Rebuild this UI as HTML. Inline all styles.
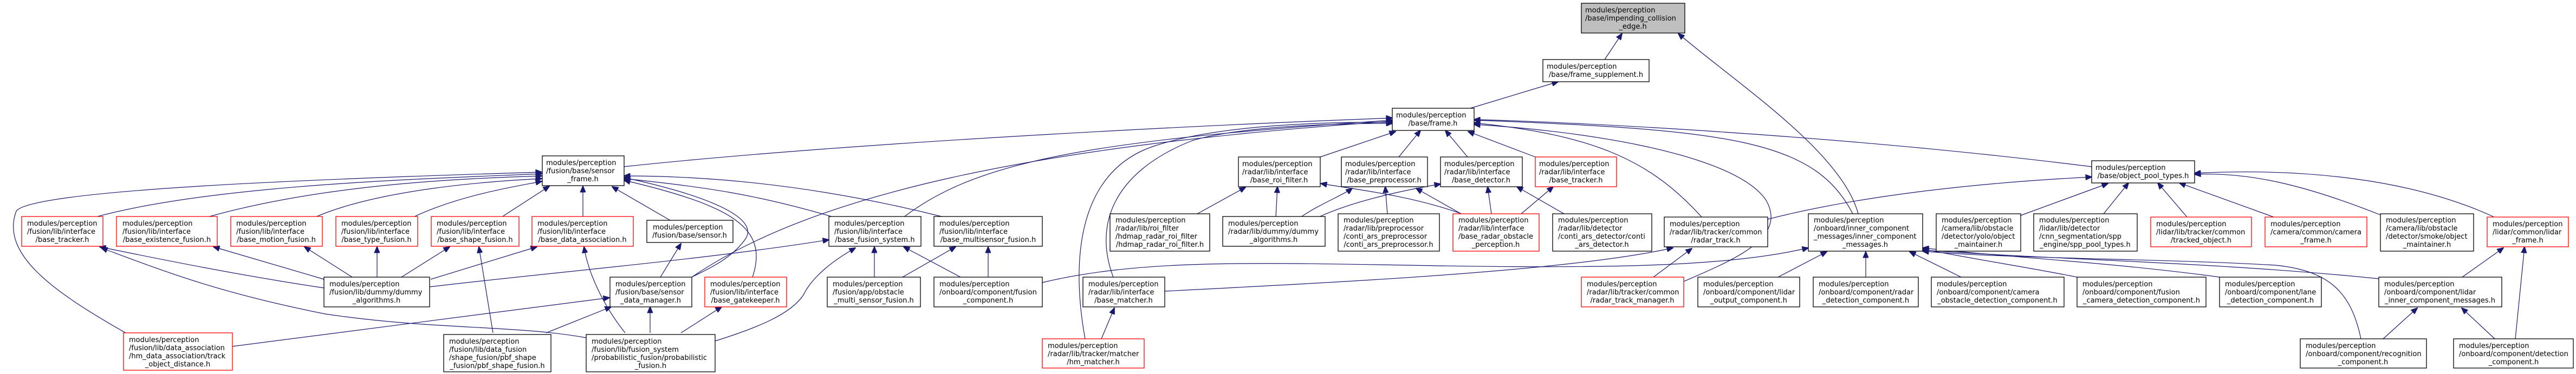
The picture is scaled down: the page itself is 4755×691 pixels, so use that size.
<!DOCTYPE html>
<html><head><meta charset="utf-8"><style>
html,body{margin:0;padding:0;background:#fff;}
svg{display:block;}
text{font-family:"DejaVu Sans","Liberation Sans",sans-serif;font-size:13px;fill:#000;}
.n{fill:#fff;stroke:#000;stroke-width:1.3;}
.r{fill:#fff;stroke:#ff0000;stroke-width:1.3;}
.g{fill:#bfbfbf;stroke:#000;stroke-width:1.3;}
.e{fill:none;stroke:#191970;stroke-width:1.2;marker-start:url(#a);}
</style></head><body>
<svg width="4755" height="691" viewBox="0 0 4755 691" xmlns="http://www.w3.org/2000/svg">
<defs><marker id="a" markerUnits="userSpaceOnUse" markerWidth="14" markerHeight="12" refX="1" refY="5" orient="auto"><path d="M0,5 L12,0 L12,10 Z" fill="#191970" stroke="#191970"/></marker></defs>
<g>
<path class="e" d="M2994,62 L2962,110"/>
<path class="e" d="M3098,62 C3200,150 3400,280 3430,395"/>
<path class="e" d="M2876,151 L2714,200"/>
<path class="e" d="M2570,218 C2300,228 1600,260 1151,308"/>
<path class="e" d="M2570,222 C2000,260 1800,300 1667,402"/>
<path class="e" d="M2570,224 C1900,270 1500,360 1277,512"/>
<path class="e" d="M2570,226 C2450,225 2250,230 2130,270 C1980,320 1980,500 2003,626"/>
<path class="e" d="M2570,228 C2500,228 2300,230 2200,260 C2050,320 2020,420 2055,512"/>
<path class="e" d="M2576,243 L2437,290"/>
<path class="e" d="M2622,241 L2582,290"/>
<path class="e" d="M2668,241 L2709,290"/>
<path class="e" d="M2710,243 L2834,290"/>
<path class="e" d="M2721,227 C2950,250 3050,300 3142,402"/>
<path class="e" d="M2721,230 C2900,240 3200,280 3260,370 C3300,440 3200,480 3108,520"/>
<path class="e" d="M2721,222 C3200,240 3350,260 3420,395"/>
<path class="e" d="M2721,221 C2900,225 3400,250 3861,308"/>
<path class="e" d="M2358,345 L2355,402"/>
<path class="e" d="M2299,346 L2210,395"/>
<path class="e" d="M2496,348 C2480,360 2430,380 2400,402"/>
<path class="e" d="M2659,340 C2600,350 2500,370 2432,402"/>
<path class="e" d="M2438,339 C2500,350 2600,360 2698,395"/>
<path class="e" d="M2557,345 L2561,395"/>
<path class="e" d="M2614,348 L2697,395"/>
<path class="e" d="M2746,345 L2753,395"/>
<path class="e" d="M2867,345 L2808,395"/>
<path class="e" d="M2800,345 L2887,395"/>
<path class="e" d="M3123,459 L3052,512"/>
<path class="e" d="M3861,327 C3600,340 3400,370 3263,405"/>
<path class="e" d="M3891,339 L3730,398"/>
<path class="e" d="M3929,338 L3883,395"/>
<path class="e" d="M3983,338 L4037,401"/>
<path class="e" d="M4023,338 L4197,401"/>
<path class="e" d="M4051,322 C4150,318 4250,340 4394,397"/>
<path class="e" d="M4051,320 C4250,310 4450,330 4604,401"/>
<path class="e" d="M3372,465 L3282,512"/>
<path class="e" d="M3444,465 L3444,512"/>
<path class="e" d="M3525,465 L3620,512"/>
<path class="e" d="M3549,460 C3650,480 3750,495 3834,512"/>
<path class="e" d="M3549,458 C3700,475 3900,485 4097,512"/>
<path class="e" d="M3549,462 C3800,480 4100,485 4391,515"/>
<path class="e" d="M3549,464 C3700,478 4000,478 4200,490 C4300,500 4340,540 4358,626"/>
<path class="e" d="M3338,458 C3200,490 3000,498 2600,490 C2300,485 2100,480 1924,522"/>
<path class="e" d="M3088,458 C2900,500 2500,520 2150,538"/>
<path class="e" d="M2057,569 L2033,626"/>
<path class="e" d="M4621,458 L4545,512"/>
<path class="e" d="M4660,456 L4643,626"/>
<path class="e" d="M4462,569 L4399,626"/>
<path class="e" d="M4544,569 L4605,626"/>
<path class="e" d="M1614,456 L1614,512"/>
<path class="e" d="M1764,456 L1666,512"/>
<path class="e" d="M1668,456 L1773,512"/>
<path class="e" d="M1824,456 L1824,512"/>
<path class="e" d="M1530,443 C1300,480 1000,505 793,530"/>
<path class="e" d="M1000,321 C800,330 400,340 176,401"/>
<path class="e" d="M1000,325 C850,330 600,340 383,401"/>
<path class="e" d="M1000,330 C900,335 700,350 582,401"/>
<path class="e" d="M1000,335 C950,345 850,360 763,401"/>
<path class="e" d="M1014,344 L926,401"/>
<path class="e" d="M1076,344 L1076,401"/>
<path class="e" d="M1130,345 L1237,407"/>
<path class="e" d="M1000,318 C600,330 60,350 30,390 C0,470 100,540 232,615"/>
<path class="e" d="M1152,328 C1300,360 1400,400 1377,440 C1350,480 1300,500 1277,512"/>
<path class="e" d="M1152,333 C1350,380 1420,420 1389,512"/>
<path class="e" d="M1152,330 C1300,345 1400,360 1538,401"/>
<path class="e" d="M1152,325 C1300,325 1500,340 1742,401"/>
<path class="e" d="M1257,450 L1219,512"/>
<path class="e" d="M184,456 C300,480 450,510 598,532"/>
<path class="e" d="M394,456 L598,516"/>
<path class="e" d="M562,456 L650,512"/>
<path class="e" d="M696,456 L696,512"/>
<path class="e" d="M830,456 L741,512"/>
<path class="e" d="M991,456 L795,516"/>
<path class="e" d="M187,458 C300,500 400,540 600,580 C800,610 950,600 1082,624"/>
<path class="e" d="M1078,456 C1085,500 1110,560 1154,615"/>
<path class="e" d="M884,456 L910,615"/>
<path class="e" d="M1128,567 L1008,615"/>
<path class="e" d="M1125,550 L429,640"/>
<path class="e" d="M1200,567 L1200,615"/>
<path class="e" d="M1332,567 L1257,615"/>
<path class="e" d="M1579,458 C1540,480 1500,510 1483,545 C1460,580 1400,605 1320,630"/>
</g>
<g>
<rect class="g" x="2919" y="6" width="191" height="55"/><text x="2926" y="23">modules/perception</text><text x="2926" y="38">/base/impending_collision</text><text x="3014" y="53" text-anchor="middle">_edge.h</text>
<rect class="n" x="2848" y="110" width="196" height="41"/><text x="2855" y="127">modules/perception</text><text x="2946" y="142" text-anchor="middle">/base/frame_supplement.h</text>
<rect class="n" x="2570" y="200" width="151" height="41"/><text x="2577" y="217">modules/perception</text><text x="2645" y="232" text-anchor="middle">/base/frame.h</text>
<rect class="n" x="1001" y="288" width="151" height="55"/><text x="1008" y="305">modules/perception</text><text x="1008" y="320">/fusion/base/sensor</text><text x="1076" y="335" text-anchor="middle">_frame.h</text>
<rect class="n" x="2286" y="290" width="151" height="55"/><text x="2293" y="307">modules/perception</text><text x="2293" y="322">/radar/lib/interface</text><text x="2361" y="337" text-anchor="middle">/base_roi_filter.h</text>
<rect class="n" x="2476" y="290" width="159" height="55"/><text x="2483" y="307">modules/perception</text><text x="2483" y="322">/radar/lib/interface</text><text x="2555" y="337" text-anchor="middle">/base_preprocessor.h</text>
<rect class="n" x="2659" y="290" width="151" height="55"/><text x="2666" y="307">modules/perception</text><text x="2666" y="322">/radar/lib/interface</text><text x="2734" y="337" text-anchor="middle">/base_detector.h</text>
<rect class="r" x="2834" y="290" width="150" height="55"/><text x="2841" y="307">modules/perception</text><text x="2841" y="322">/radar/lib/interface</text><text x="2909" y="337" text-anchor="middle">/base_tracker.h</text>
<rect class="n" x="3861" y="297" width="190" height="41"/><text x="3868" y="314">modules/perception</text><text x="3956" y="329" text-anchor="middle">/base/object_pool_types.h</text>

<rect class="r" x="40" y="400" width="150" height="55"/><text x="50" y="417">modules/perception</text><text x="50" y="432">/fusion/lib/interface</text><text x="115" y="447" text-anchor="middle">/base_tracker.h</text>
<rect class="r" x="215" y="400" width="186" height="55"/><text x="226" y="417">modules/perception</text><text x="226" y="432">/fusion/lib/interface</text><text x="308" y="447" text-anchor="middle">/base_existence_fusion.h</text>
<rect class="r" x="426" y="400" width="169" height="55"/><text x="436" y="417">modules/perception</text><text x="436" y="432">/fusion/lib/interface</text><text x="510" y="447" text-anchor="middle">/base_motion_fusion.h</text>
<rect class="r" x="620" y="400" width="151" height="55"/><text x="630" y="417">modules/perception</text><text x="630" y="432">/fusion/lib/interface</text><text x="695" y="447" text-anchor="middle">/base_type_fusion.h</text>
<rect class="r" x="796" y="400" width="162" height="55"/><text x="806" y="417">modules/perception</text><text x="806" y="432">/fusion/lib/interface</text><text x="877" y="447" text-anchor="middle">/base_shape_fusion.h</text>
<rect class="r" x="982" y="400" width="187" height="55"/><text x="992" y="417">modules/perception</text><text x="992" y="432">/fusion/lib/interface</text><text x="1075" y="447" text-anchor="middle">/base_data_association.h</text>
<rect class="n" x="1194" y="407" width="159" height="41"/><text x="1205" y="424">modules/perception</text><text x="1273" y="439" text-anchor="middle">/fusion/base/sensor.h</text>
<rect class="n" x="1530" y="400" width="170" height="55"/><text x="1540" y="417">modules/perception</text><text x="1540" y="432">/fusion/lib/interface</text><text x="1615" y="447" text-anchor="middle">/base_fusion_system.h</text>
<rect class="n" x="1724" y="400" width="200" height="55"/><text x="1734" y="417">modules/perception</text><text x="1734" y="432">/fusion/lib/interface</text><text x="1824" y="447" text-anchor="middle">/base_multisensor_fusion.h</text>
<rect class="n" x="2049" y="395" width="184" height="69"/><text x="2059" y="411">modules/perception</text><text x="2059" y="426">/radar/lib/roi_filter</text><text x="2059" y="441">/hdmap_radar_roi_filter</text><text x="2141" y="456" text-anchor="middle">/hdmap_radar_roi_filter.h</text>
<rect class="n" x="2257" y="400" width="189" height="55"/><text x="2267" y="417">modules/perception</text><text x="2267" y="432">/radar/lib/dummy/dummy</text><text x="2351" y="447" text-anchor="middle">_algorithms.h</text>
<rect class="n" x="2470" y="395" width="187" height="69"/><text x="2480" y="411">modules/perception</text><text x="2480" y="426">/radar/lib/preprocessor</text><text x="2480" y="441">/conti_ars_preprocessor</text><text x="2563" y="456" text-anchor="middle">/conti_ars_preprocessor.h</text>
<rect class="r" x="2682" y="395" width="159" height="69"/><text x="2692" y="411">modules/perception</text><text x="2692" y="426">/radar/lib/interface</text><text x="2692" y="441">/base_radar_obstacle</text><text x="2761" y="456" text-anchor="middle">_perception.h</text>
<rect class="n" x="2866" y="395" width="183" height="69"/><text x="2876" y="411">modules/perception</text><text x="2876" y="426">/radar/lib/detector</text><text x="2876" y="441">/conti_ars_detector/conti</text><text x="2957" y="456" text-anchor="middle">_ars_detector.h</text>
<rect class="n" x="3072" y="401" width="191" height="55"/><text x="3082" y="418">modules/perception</text><text x="3082" y="433">/radar/lib/tracker/common</text><text x="3167" y="448" text-anchor="middle">/radar_track.h</text>
<rect class="n" x="3338" y="395" width="211" height="69"/><text x="3348" y="411">modules/perception</text><text x="3348" y="426">/onboard/inner_component</text><text x="3348" y="441">_messages/inner_component</text><text x="3443" y="456" text-anchor="middle">_messages.h</text>
<rect class="n" x="3574" y="395" width="156" height="69"/><text x="3584" y="411">modules/perception</text><text x="3584" y="426">/camera/lib/obstacle</text><text x="3584" y="441">/detector/yolo/object</text><text x="3652" y="456" text-anchor="middle">_maintainer.h</text>
<rect class="n" x="3754" y="395" width="191" height="69"/><text x="3764" y="411">modules/perception</text><text x="3764" y="426">/lidar/lib/detector</text><text x="3764" y="441">/cnn_segmentation/spp</text><text x="3849" y="456" text-anchor="middle">_engine/spp_pool_types.h</text>
<rect class="r" x="3970" y="401" width="186" height="55"/><text x="3980" y="418">modules/perception</text><text x="3980" y="433">/lidar/lib/tracker/common</text><text x="4063" y="448" text-anchor="middle">/tracked_object.h</text>
<rect class="r" x="4181" y="401" width="188" height="55"/><text x="4191" y="418">modules/perception</text><text x="4191" y="433">/camera/common/camera</text><text x="4275" y="448" text-anchor="middle">_frame.h</text>
<rect class="n" x="4394" y="395" width="172" height="69"/><text x="4404" y="411">modules/perception</text><text x="4404" y="426">/camera/lib/obstacle</text><text x="4404" y="441">/detector/smoke/object</text><text x="4480" y="456" text-anchor="middle">_maintainer.h</text>
<rect class="r" x="4591" y="401" width="150" height="55"/><text x="4601" y="418">modules/perception</text><text x="4601" y="433">/lidar/common/lidar</text><text x="4666" y="448" text-anchor="middle">_frame.h</text>

<rect class="n" x="598" y="512" width="195" height="55"/><text x="608" y="529">modules/perception</text><text x="608" y="544">/fusion/lib/dummy/dummy</text><text x="695" y="559" text-anchor="middle">_algorithms.h</text>
<rect class="n" x="1126" y="512" width="151" height="55"/><text x="1136" y="529">modules/perception</text><text x="1136" y="544">/fusion/base/sensor</text><text x="1201" y="559" text-anchor="middle">_data_manager.h</text>
<rect class="r" x="1301" y="512" width="151" height="55"/><text x="1311" y="529">modules/perception</text><text x="1311" y="544">/fusion/lib/interface</text><text x="1376" y="559" text-anchor="middle">/base_gatekeeper.h</text>
<rect class="n" x="1527" y="512" width="172" height="55"/><text x="1537" y="529">modules/perception</text><text x="1537" y="544">/fusion/app/obstacle</text><text x="1613" y="559" text-anchor="middle">_multi_sensor_fusion.h</text>
<rect class="n" x="1724" y="512" width="200" height="55"/><text x="1734" y="529">modules/perception</text><text x="1734" y="544">/onboard/component/fusion</text><text x="1824" y="559" text-anchor="middle">_component.h</text>
<rect class="n" x="1999" y="512" width="151" height="55"/><text x="2009" y="529">modules/perception</text><text x="2009" y="544">/radar/lib/interface</text><text x="2074" y="559" text-anchor="middle">/base_matcher.h</text>
<rect class="r" x="2919" y="512" width="189" height="55"/><text x="2929" y="529">modules/perception</text><text x="2929" y="544">/radar/lib/tracker/common</text><text x="3013" y="559" text-anchor="middle">/radar_track_manager.h</text>
<rect class="n" x="3134" y="512" width="188" height="55"/><text x="3144" y="529">modules/perception</text><text x="3144" y="544">/onboard/component/lidar</text><text x="3228" y="559" text-anchor="middle">_output_component.h</text>
<rect class="n" x="3347" y="512" width="194" height="55"/><text x="3357" y="529">modules/perception</text><text x="3357" y="544">/onboard/component/radar</text><text x="3444" y="559" text-anchor="middle">_detection_component.h</text>
<rect class="n" x="3565" y="512" width="245" height="55"/><text x="3575" y="529">modules/perception</text><text x="3575" y="544">/onboard/component/camera</text><text x="3687" y="559" text-anchor="middle">_obstacle_detection_component.h</text>
<rect class="n" x="3834" y="512" width="238" height="55"/><text x="3844" y="529">modules/perception</text><text x="3844" y="544">/onboard/component/fusion</text><text x="3953" y="559" text-anchor="middle">_camera_detection_component.h</text>
<rect class="n" x="4097" y="512" width="188" height="55"/><text x="4107" y="529">modules/perception</text><text x="4107" y="544">/onboard/component/lane</text><text x="4191" y="559" text-anchor="middle">_detection_component.h</text>
<rect class="n" x="4391" y="512" width="227" height="55"/><text x="4401" y="529">modules/perception</text><text x="4401" y="544">/onboard/component/lidar</text><text x="4504" y="559" text-anchor="middle">_inner_component_messages.h</text>

<rect class="r" x="228" y="615" width="201" height="69"/><text x="238" y="632">modules/perception</text><text x="238" y="647">/fusion/lib/data_association</text><text x="238" y="662">/hm_data_association/track</text><text x="328" y="677" text-anchor="middle">_object_distance.h</text>
<rect class="n" x="819" y="618" width="198" height="69"/><text x="829" y="635">modules/perception</text><text x="829" y="650">/fusion/lib/data_fusion</text><text x="829" y="665">/shape_fusion/pbf_shape</text><text x="918" y="680" text-anchor="middle">_fusion/pbf_shape_fusion.h</text>
<rect class="n" x="1082" y="618" width="238" height="69"/><text x="1092" y="635">modules/perception</text><text x="1092" y="650">/fusion/lib/fusion_system</text><text x="1092" y="665">/probabilistic_fusion/probabilistic</text><text x="1201" y="680" text-anchor="middle">_fusion.h</text>
<rect class="r" x="1924" y="626" width="188" height="54"/><text x="1934" y="643">modules/perception</text><text x="1934" y="658">/radar/lib/tracker/matcher</text><text x="2018" y="673" text-anchor="middle">/hm_matcher.h</text>
<rect class="n" x="4246" y="626" width="233" height="54"/><text x="4256" y="643">modules/perception</text><text x="4256" y="658">/onboard/component/recognition</text><text x="4362" y="673" text-anchor="middle">_component.h</text>
<rect class="n" x="4529" y="626" width="221" height="54"/><text x="4539" y="643">modules/perception</text><text x="4539" y="658">/onboard/component/detection</text><text x="4640" y="673" text-anchor="middle">_component.h</text>
</g>
</svg>
</body></html>
